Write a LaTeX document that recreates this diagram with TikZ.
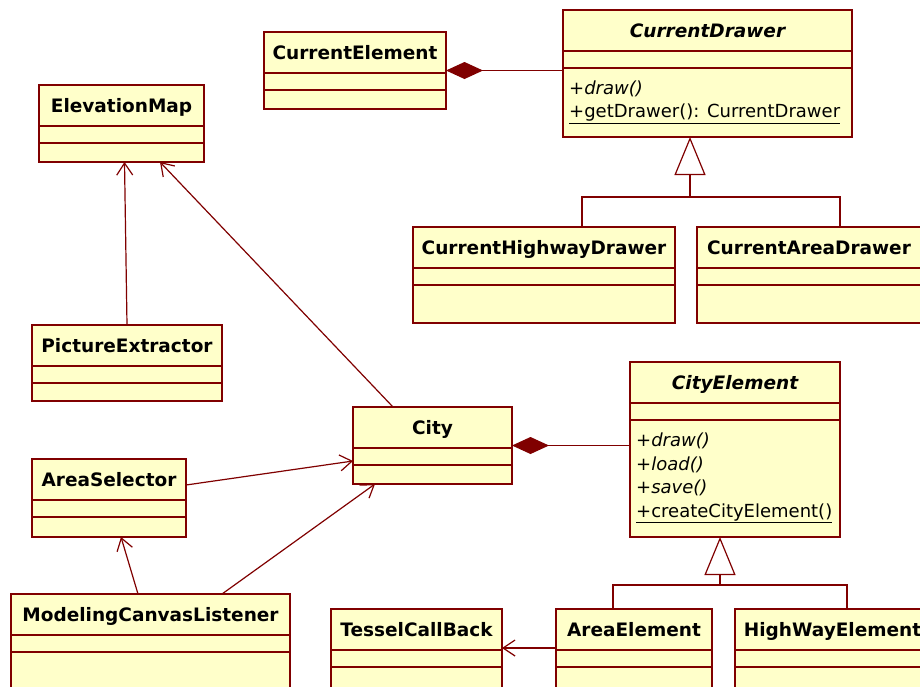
\documentclass[tikz,border=0pt]{standalone}
\usepackage{fontspec}
\setmainfont{DejaVu Sans}
\usetikzlibrary{arrows.meta}

\definecolor{umlfill}{RGB}{255,255,202}
\definecolor{umlred}{RGB}{128,0,0}

\tikzset{
  classbox/.style={draw=umlred, fill=umlfill, line width=1.2pt, rectangle, inner sep=0pt, outer sep=0pt, anchor=north west},
  classname/.style={font=\bfseries\fontsize{18.5}{22}\selectfont, inner sep=0pt, anchor=base},
  classops/.style={font=\fontsize{18}{23.7}\selectfont, align=left, inner sep=0pt, anchor=north west},
  classline/.style={draw=umlred, line width=1.2pt},
  assoc/.style={draw=umlred, line width=1.2pt, -{Straight Barb[length=12pt, width=16pt]}},
  compos/.style={draw=umlred, line width=1.2pt, {Diamond[length=37pt, width=17pt]}-},
  generaliz/.style={draw=umlred, line width=1.2pt, -{Triangle[open, length=38pt, width=31pt]}},
  branch/.style={draw=umlred, line width=1.2pt},
}

% class box: name, north west corner, width, height, title, operations
\newcommand{\umlclass}[6]{
  \node[classbox, minimum width=#3pt, minimum height=#4pt] (#1) at #2 {};
  \node[classname] (#1-title) at ([yshift=-27pt]#1.north) {#5};
  \draw[classline] ([yshift=-41pt]#1.north west) -- ([yshift=-41pt]#1.north east);
  \draw[classline] ([yshift=-58pt]#1.north west) -- ([yshift=-58pt]#1.north east);
  \node[classops] (#1-ops) at ([xshift=6pt, yshift=-67.5pt]#1.north west) {#6};
}

\begin{document}
\begin{tikzpicture}[x=1pt, y=-1pt]
\useasboundingbox (0,0) rectangle (920,686);
\clip (0,0) rectangle (920,686);
\fill[white] (0,0) rectangle (920,686);

% drawers
\umlclass{curelem}{(264,32)}{182}{77}{CurrentElement}{}
\umlclass{curdrawer}{(563,10)}{289}{127}{\itshape CurrentDrawer}{\strut\textit{+draw()}\\\underline{+getDrawer(): CurrentDrawer}}
\umlclass{hwdrawer}{(413,227)}{262}{96}{CurrentHighwayDrawer}{}
\umlclass{areadrawer}{(697,227)}{224}{96}{CurrentAreaDrawer}{}

% left column
\umlclass{elevmap}{(39,85)}{165}{77}{ElevationMap}{}
\umlclass{picext}{(32,325)}{190}{76}{PictureExtractor}{}
\umlclass{areasel}{(32,459)}{154}{78}{AreaSelector}{}
\umlclass{canvaslis}{(11,594)}{279}{120}{ModelingCanvasListener}{}

% city and its elements
\umlclass{city}{(353,407)}{159}{77}{City}{}
\umlclass{cityelem}{(630,362)}{210}{175}{\itshape CityElement}{\strut\textit{+draw()}\\\textit{+load()}\\\textit{+save()}\\\underline{+createCityElement()}}
\umlclass{tessel}{(331,609)}{171}{100}{TesselCallBack}{}
\umlclass{areaelem}{(556,609)}{156}{100}{AreaElement}{}
\umlclass{hwelem}{(735,609)}{195}{100}{HighWayElement}{}

% compositions
\path[compos] (curelem.east) -- (curelem.east -| curdrawer.west);
\path[compos] (city.east) -- (city.east -| cityelem.west);

% inheritance
\coordinate (drawerfork) at (690,197);
\path[branch] ([xshift=38pt]hwdrawer.north) |- (drawerfork);
\path[branch] ([xshift=31pt]areadrawer.north) |- (drawerfork);
\path[generaliz] (drawerfork) -- (drawerfork |- curdrawer.south);

\coordinate (elemfork) at (720,585);
\path[branch] ([xshift=-21pt]areaelem.north) |- (elemfork);
\path[branch] ([xshift=14.5pt]hwelem.north) |- (elemfork);
\path[generaliz] (elemfork) -- (elemfork |- cityelem.south);

% associations
\path[assoc] (picext.north) -- ([xshift=3pt]elevmap.south);
\path[assoc] ([xshift=-39.5pt]city.north) -- ([xshift=38.5pt]elevmap.south);
\path[assoc] ([yshift=13pt]areasel.east) -- ([yshift=-15.5pt]city.west);
\path[assoc] ([xshift=-12.5pt]canvaslis.north) -- ([xshift=12pt]areasel.south);
\path[assoc] ([xshift=71.5pt]canvaslis.north) -- ([xshift=-57.5pt]city.south);
\path[assoc] ([yshift=-39pt]areaelem.north west) -- ([yshift=-39pt]tessel.north east);
\end{tikzpicture}
\end{document}
